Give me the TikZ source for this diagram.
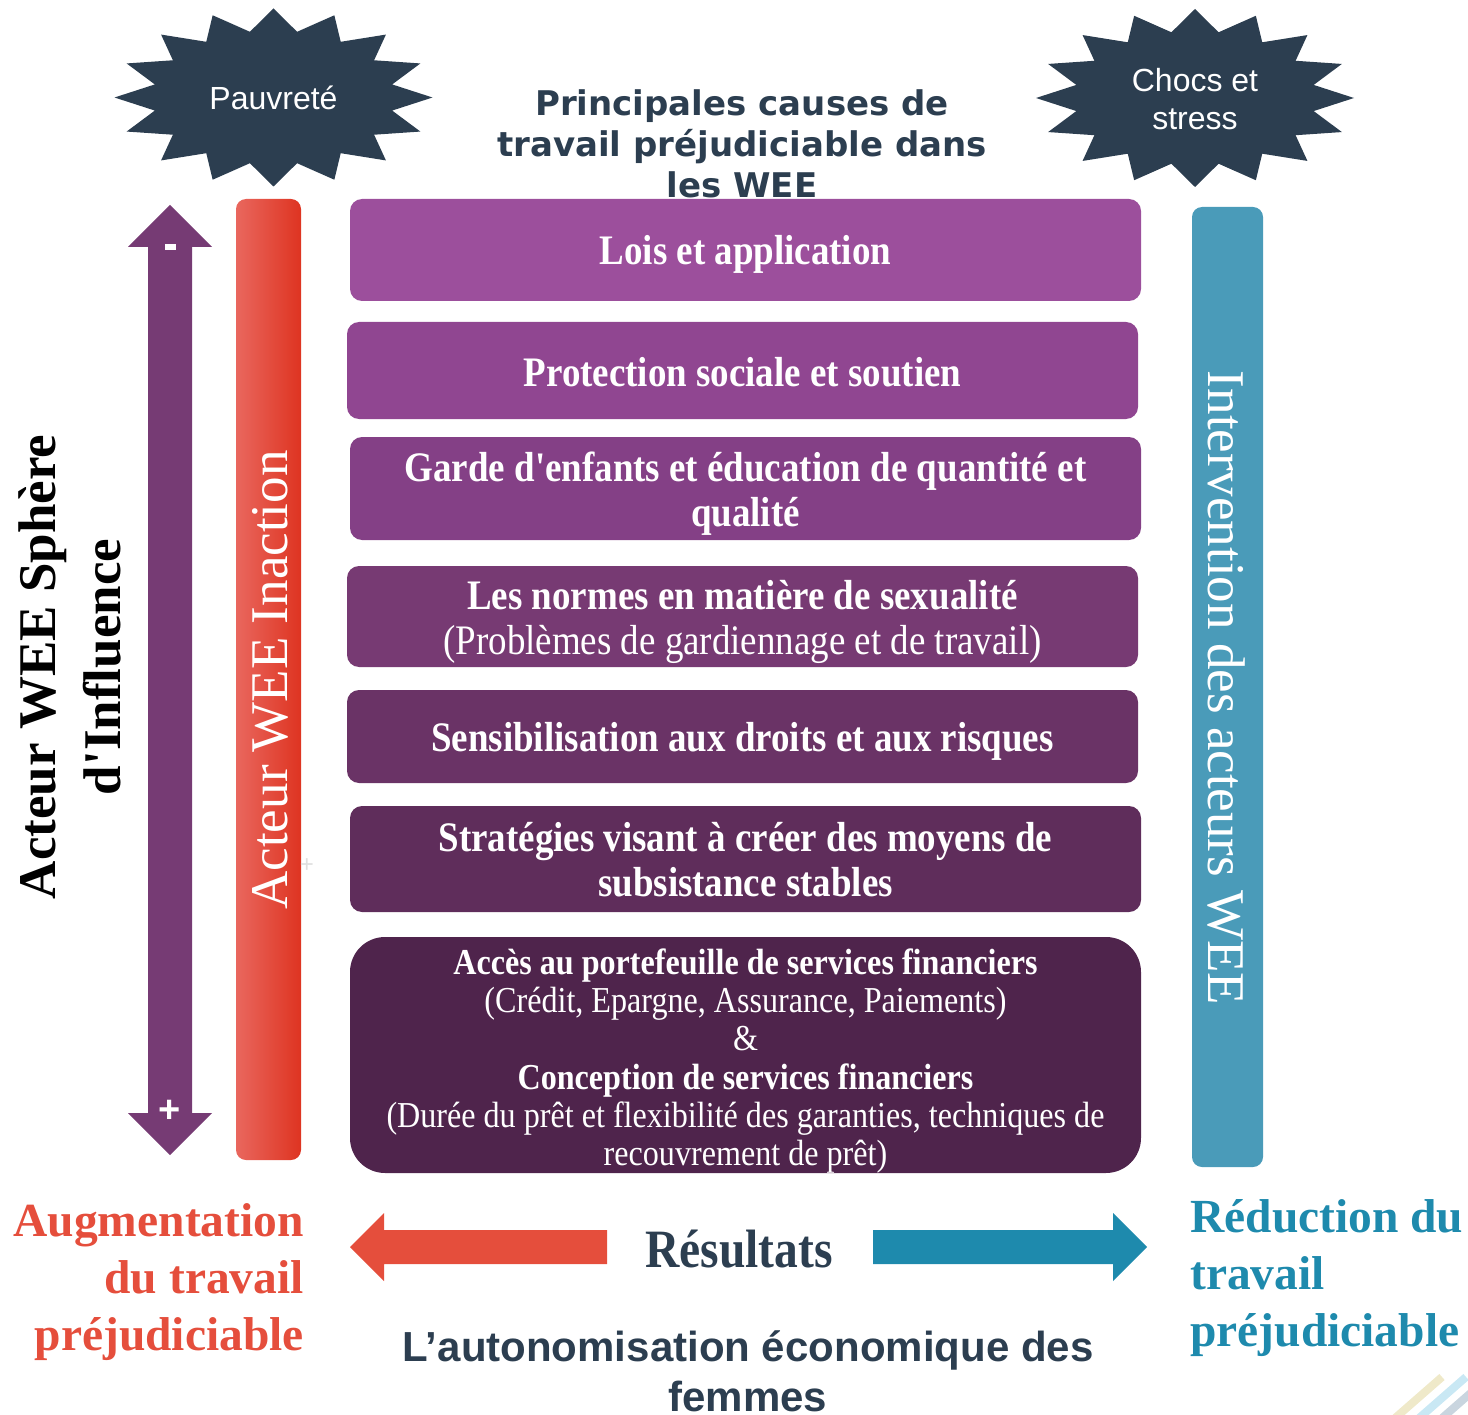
\documentclass[tikz,border=0pt]{standalone}
\usepackage{fontspec}
\setmainfont{Liberation Serif}
\newfontfamily\boxfont[FakeStretch=0.88]{Liberation Serif}
\newfontfamily\sidefont{Liberation Serif}
\newfontfamily\burstfont{Liberation Sans}
\newfontfamily\headfont{DejaVu Sans}
\usetikzlibrary{positioning}

\definecolor{navy}{HTML}{2C3E50}
\definecolor{boxa}{HTML}{9C4F9C}
\definecolor{boxb}{HTML}{904691}
\definecolor{boxc}{HTML}{844086}
\definecolor{boxd}{HTML}{773A73}
\definecolor{boxe}{HTML}{6A3366}
\definecolor{boxf}{HTML}{5F2D5B}
\definecolor{boxg}{HTML}{4F244C}
\definecolor{influence}{HTML}{763B74}
\definecolor{inactleft}{HTML}{E9675E}
\definecolor{inactmid}{HTML}{E8432F}
\definecolor{inactright}{HTML}{DE3421}
\definecolor{actorblue}{HTML}{4A9BB9}
\definecolor{worsered}{HTML}{E54E3C}
\definecolor{betterteal}{HTML}{1E8AAD}
\definecolor{stripeyellow}{HTML}{EFE9C9}
\definecolor{stripeblue}{HTML}{C9E8F4}
\definecolor{stripegrey}{HTML}{C9D5DF}

\begin{document}
\begin{tikzpicture}[
        x=1pt, y=-1pt,
        wee box/.style = {rounded corners=12pt, minimum width=791pt, inner sep=0pt},
        box text/.style = {inner sep=0pt, text=white, align=center, font=\boxfont\bfseries\fontsize{42}{45}\selectfont},
        burst text/.style = {text=white, align=center, font=\burstfont\fontsize{32}{38}\selectfont},
        bar/.style = {rounded corners=10pt, inner sep=0pt},
        bar text/.style = {text=white, inner sep=0pt, font=\sidefont\fontsize{53}{60}\selectfont},
        side label/.style = {inner sep=0pt, font=\bfseries\fontsize{47.5}{57}\selectfont},
        sign/.style = {text=white, inner sep=0pt, font=\burstfont\bfseries\fontsize{38}{38}\selectfont}
    ]
\useasboundingbox (0,0) rectangle (1468,1415);

% starbursts
\foreach \cx/\cy in {273.5/97.5, 1195/98} {
  \fill[navy] ({\cx+159},{\cy}) \foreach \a in {0,22.5,...,337.5} {
      -- ({\cx+121*cos(\a+11.25)},{\cy+67*sin(\a+11.25)}) -- ({\cx+159*cos(\a+22.5)},{\cy+89*sin(\a+22.5)})
    } -- cycle;
}
\node[burst text] (pauvrete) at (273.5,98) {Pauvreté};
\node[burst text] (chocs) at (1195,99) {Chocs et\\stress};

\node[text=navy, align=center, inner sep=0pt, font=\headfont\bfseries\fontsize{34}{41}\selectfont] (causes) at (742,144) {Principales causes de\\travail préjudiciable dans\\les WEE};

% left side
\fill[influence] (170,205) -- (212,247) -- (192,247) -- (192,1113) -- (212,1113) -- (170,1155)
    -- (128,1113) -- (148,1113) -- (148,247) -- (128,247) -- cycle;
\node[fill=white, minimum width=11pt, minimum height=6pt, inner sep=0pt] (moins) at (170,247) {};
\node[sign] (plus) at (170,1111) {+};
\node[rotate=90, align=center, inner sep=0pt, font=\sidefont\bfseries\fontsize{53}{65}\selectfont] (sphere) at (70,667) {Acteur WEE Sphère\\d'Influence};

\node[bar, left color=inactleft, middle color=inactmid, right color=inactright, minimum width=65pt, minimum height=961pt] (inactbar) at (268.5,679.5) {};
\node[bar text, rotate=90] (inaction) at (270,680) {Acteur WEE Inaction};
\node[text=gray!25, inner sep=0pt, font=\burstfont\fontsize{24}{24}\selectfont] (croix) at (307,866) {+};

% right side
\node[bar, fill=actorblue, minimum width=71pt, minimum height=960pt] (actbar) at (1227.5,687) {};
\node[bar text, rotate=-90] (intervention) at (1226,688) {Intervention des acteurs WEE};

% causes
\node[wee box, fill=boxa, minimum height=102pt] (lois) at (745.5,250) {};
\node[wee box, fill=boxb, minimum height=97pt] (protection) at (742.5,370.5) {};
\node[wee box, fill=boxc, minimum height=103pt] (garde) at (745.5,488.5) {};
\node[wee box, fill=boxd, minimum height=101pt] (normes) at (742.5,616.5) {};
\node[wee box, fill=boxe, minimum height=93pt] (sensibilisation) at (742.5,736.5) {};
\node[wee box, fill=boxf, minimum height=106pt] (strategies) at (745.5,859) {};
\node[wee box, fill=boxg, minimum height=236pt, rounded corners=35pt] (acces) at (745.5,1055) {};

\node[box text] at ([yshift=-4pt]lois) {Lois et application};
\node[box text] at ([yshift=-2pt]protection) {Protection sociale et soutien};
\node[box text] at ([yshift=-5pt]garde) {Garde d'enfants et éducation de quantité et\\qualité};
\node[box text] at ([yshift=-5pt]normes) {Les normes en matière de sexualité\\\mdseries(Problèmes de gardiennage et de travail)};
\node[box text] at ([yshift=-5pt]sensibilisation) {Sensibilisation aux droits et aux risques};
\node[box text] at ([yshift=-1pt]strategies) {Stratégies visant à créer des moyens de\\subsistance stables};
\node[box text, font=\boxfont\bfseries\fontsize{36.5}{38.2}\selectfont] at ([yshift=-6pt]acces)
    {Accès au portefeuille de services financiers\\
     \mdseries(Crédit, Epargne, Assurance, Paiements)\\
     \mdseries\&\\
     \bfseries Conception de services financiers\\
     \mdseries(Durée du prêt et flexibilité des garanties, techniques de\\
     \mdseries recouvrement de prêt)};

% results
\node[text=navy, inner sep=0pt, font=\boxfont\bfseries\fontsize{54}{54}\selectfont] (resultats) at (739,1249) {Résultats};
\fill[worsered] (350,1247) -- (384,1213) -- (384,1230) -- (607,1230) -- (607,1264) -- (384,1264) -- (384,1281) -- cycle;
\fill[betterteal] (1147,1247) -- (1113,1213) -- (1113,1230) -- (873,1230) -- (873,1264) -- (1113,1264) -- (1113,1281) -- cycle;
\node[side label, text=worsered, align=right, anchor=north east] (augmentation) at (304,1203) {Augmentation\\du travail\\préjudiciable};
\node[side label, text=betterteal, align=left, anchor=north west] (reduction) at (1190,1199) {Réduction du\\travail\\préjudiciable};
\node[text=navy, align=center, inner sep=0pt, font=\burstfont\bfseries\fontsize{42}{50}\selectfont] (autonomisation) at (748,1371) {L’autonomisation économique des\\femmes};

% corner stripes
\begin{scope}
  \clip (1380,1370) rectangle (1468,1415);
  \draw[stripeyellow, line width=8pt] (1394,1419) -- (1442,1377);
  \draw[stripeblue, line width=8pt] (1418,1419) -- (1466,1377);
  \draw[stripegrey, line width=8pt] (1441,1419) -- (1489,1377);
\end{scope}
\end{tikzpicture}
\end{document}
